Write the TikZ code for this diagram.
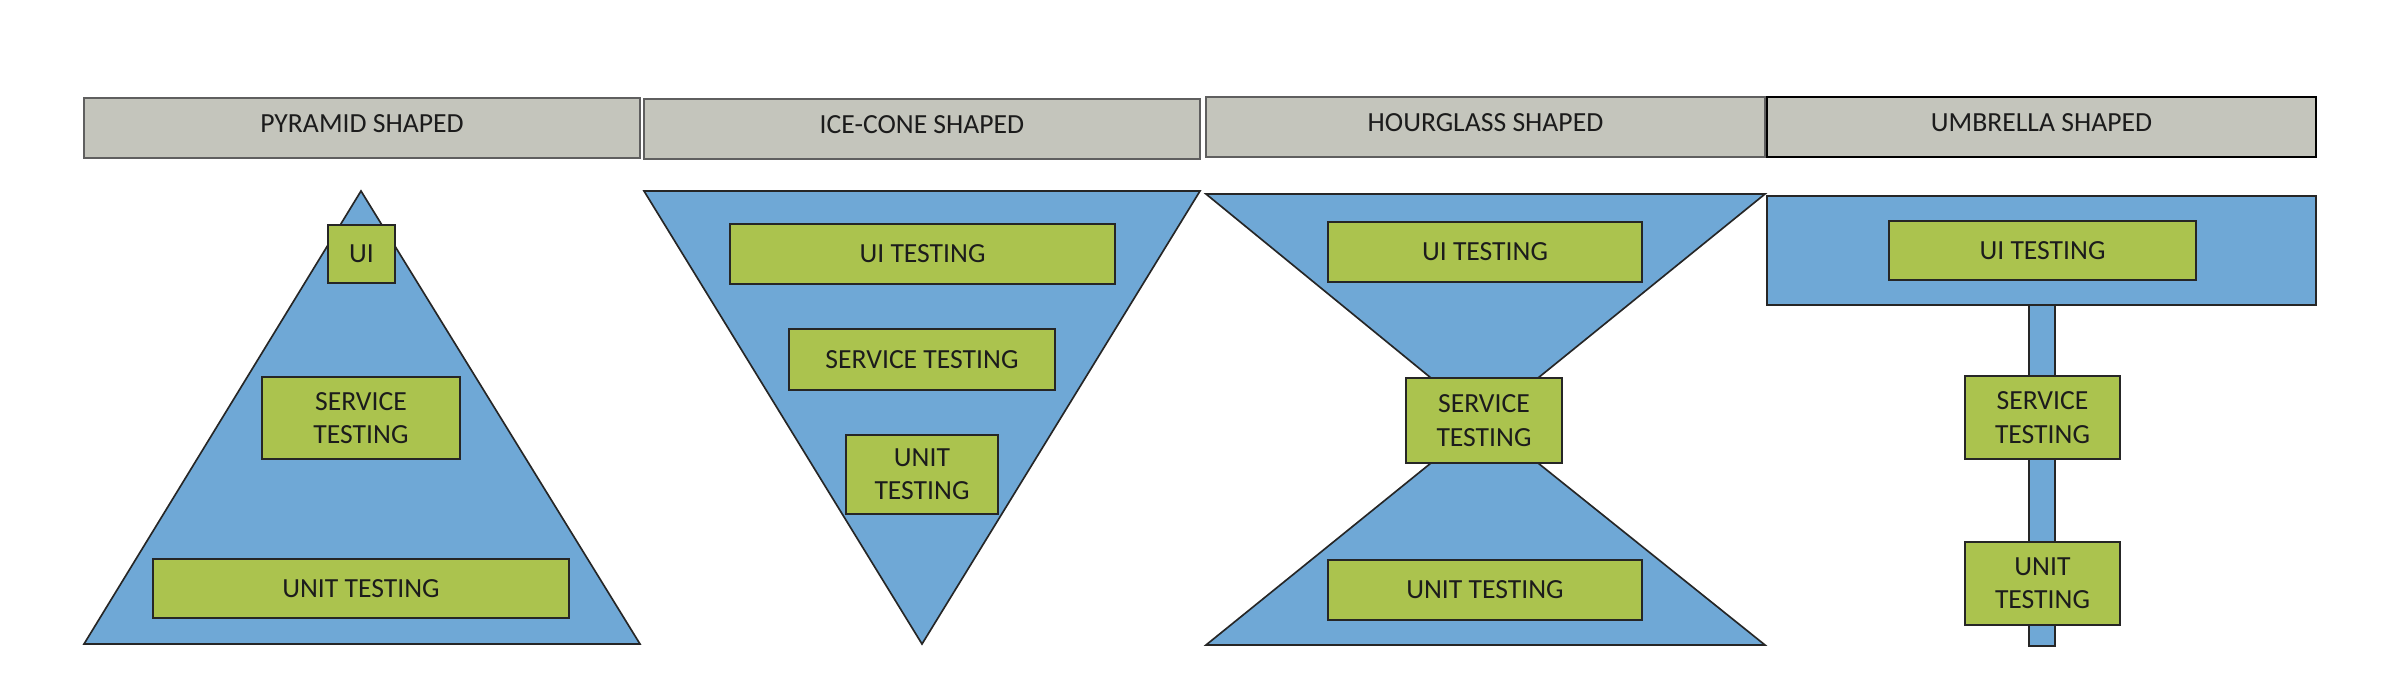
\documentclass[tikz,border=0pt]{standalone}
\usepackage{fontspec}
\setmainfont{Carlito}
\usetikzlibrary{fit}
\definecolor{hdrfill}{RGB}{196,197,188}
\definecolor{bluefill}{RGB}{111,168,214}
\definecolor{greenfill}{RGB}{171,195,78}
\definecolor{edgecol}{RGB}{38,38,38}
\definecolor{hdredge}{RGB}{95,95,95}
\definecolor{txtcol}{RGB}{28,28,28}
\begin{document}
\begin{tikzpicture}[x=0.3pt,y=-0.3pt,
  hdr/.style={draw=hdredge, fill=hdrfill, line width=0.6pt, inner sep=0pt},
  hdrtext/.style={font=\fontsize{8.3}{10}\selectfont, text=txtcol, yshift=1.3pt},
  shapeblue/.style={draw=edgecol, fill=bluefill, line width=0.5pt, line join=miter},
  gbox/.style={draw=edgecol, fill=greenfill, line width=0.6pt, inner sep=0pt,
    anchor=center, font=\fontsize{8.3}{10}\selectfont, text=txtcol, align=center},
  sz/.style 2 args={minimum width=#1pt, minimum height=#2pt}]
\useasboundingbox (0,0) rectangle (2400,680);

% ---------- headers ----------
\node[hdr, fit={(84,98) (640,158)}, label={[hdrtext]center:PYRAMID SHAPED}] (h1) {};
\node[hdr, fit={(644,99) (1200,159)}, label={[hdrtext]center:ICE-CONE SHAPED}] (h2) {};
\node[hdr, fit={(1206,97) (1765,157)}, label={[hdrtext]center:HOURGLASS SHAPED}] (h3) {};
\node[hdr, draw=black, fit={(1767,97) (2316,157)}, label={[hdrtext]center:UMBRELLA SHAPED}] (h4) {};

% ---------- pyramid ----------
\draw[shapeblue] (84,644) -- (361,191) -- (640,644) -- cycle;
\node[gbox, sz={20.1}{17.4}] (ui1) at (361.5,254) {UI};
\node[gbox, sz={59.4}{24.6}] (svc1) at (361,418) {SERVICE\\TESTING};
\node[gbox, sz={124.8}{17.7}] (unit1) at (361,588.5) {UNIT TESTING};

% ---------- ice-cone ----------
\draw[shapeblue] (644,191) -- (1200,191) -- (922,644) -- cycle;
\node[gbox, sz={115.5}{18}] (ui2) at (922.5,254) {UI TESTING};
\node[gbox, sz={79.8}{18.3}] (svc2) at (922,359.5) {SERVICE TESTING};
\node[gbox, sz={45.6}{23.7}] (unit2) at (922,474.5) {UNIT\\TESTING};

% ---------- hourglass ----------
\draw[shapeblue] (1206,194) -- (1765,194) -- (1538,378) -- (1431,378) -- cycle;
\draw[shapeblue] (1431,463) -- (1538,463) -- (1765,645) -- (1206,645) -- cycle;
\node[gbox, sz={94.2}{18}] (ui3) at (1485,252) {UI TESTING};
\node[gbox, sz={46.8}{25.5}] (svc3) at (1484,420.5) {SERVICE\\TESTING};
\node[gbox, sz={94.2}{18}] (unit3) at (1485,590) {UNIT TESTING};

% ---------- umbrella ----------
\draw[shapeblue] (2029,300) rectangle (2055,646);
\draw[shapeblue] (1767,196) rectangle (2316,305);
\node[gbox, sz={92.1}{17.7}] (ui4) at (2042.5,250.5) {UI TESTING};
\node[gbox, sz={46.5}{24.9}] (svc4) at (2042.5,417.5) {SERVICE\\TESTING};
\node[gbox, sz={46.5}{24.9}] (unit4) at (2042.5,583.5) {UNIT\\TESTING};
\end{tikzpicture}
\end{document}
